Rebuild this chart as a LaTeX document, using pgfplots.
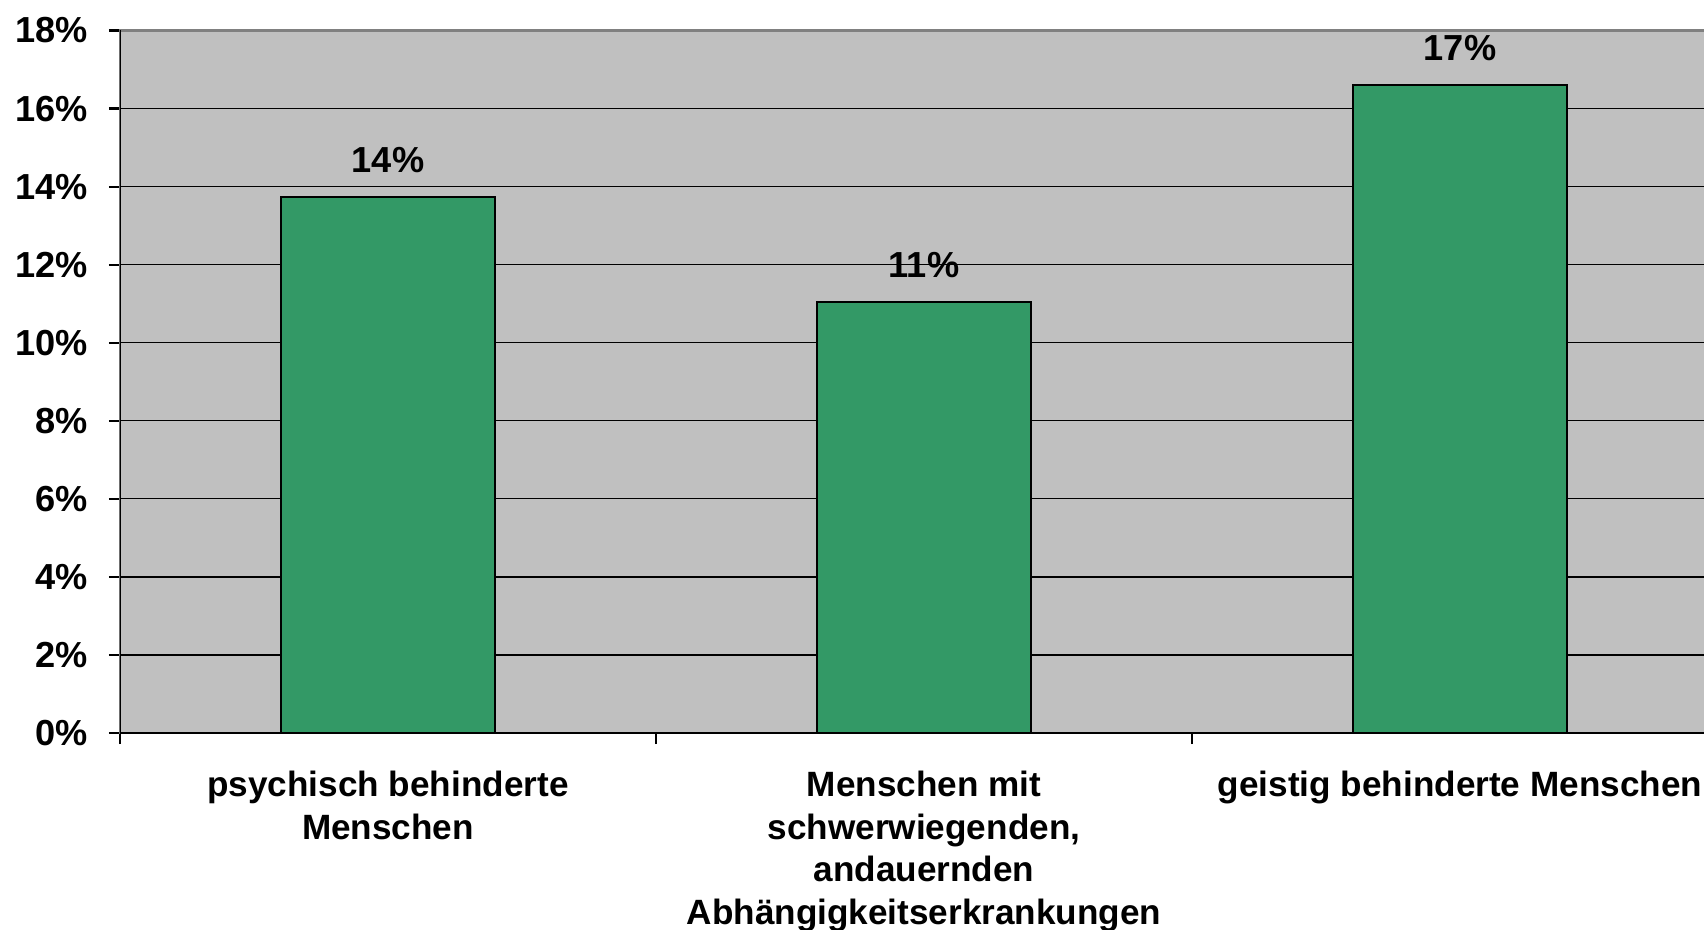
\documentclass[border=0pt]{standalone}
\usepackage{pgfplots}
\pgfplotsset{compat=1.18}
\usepackage{fontspec}
\setmainfont{Liberation Sans}
\definecolor{plotbg}{RGB}{192,192,192}
\definecolor{barfill}{RGB}{51,153,102}
\definecolor{framegray}{RGB}{128,128,128}
\newcommand{\lbl}{\fontsize{10}{12.07}\selectfont\bfseries}
\newcommand{\tlbl}{\fontsize{10.3}{12.07}\selectfont\bfseries}
\begin{document}
\begin{tikzpicture}
\useasboundingbox (-12mm,-19.7mm) rectangle (158.4mm,73.3mm);
\clip (-12mm,-19.7mm) rectangle (158.4mm,73.3mm);
\begin{axis}[
  at={(0mm,0mm)}, anchor=south west,
  scale only axis, width=160.8mm, height=70.25mm,
  xmin=0.5, xmax=3.5, ymin=0, ymax=18,
  ybar, bar width=0.4, bar shift=0pt,
  ytick={0,2,...,18},
  yticklabel={\pgfmathprintnumber{\tick}\%},
  xtick={0.5,1.5,2.5,3.5},
  x tick label as interval,
  xtick pos=bottom, ytick pos=left,
  xticklabels={{psychisch behinderte\\Menschen},{Menschen mit\\schwerwiegenden,\\andauernden\\Abhängigkeitserkrankungen},{geistig behinderte Menschen}},
  xticklabel style={align=center, font=\lbl, anchor=north, yshift=-1.5mm},
  yticklabel style={font=\tlbl, xshift=-0.9mm},
  /pgf/number format/assume math mode=true,
  tick align=outside, major tick length=1.1mm,
  tick style={black, line width=0.6pt},
  ymajorgrids, grid style={black, line width=0.35pt},
  axis background/.style={fill=plotbg},
  axis line style={framegray, line width=0.8pt},
  nodes near coords={\pgfmathprintnumber[fixed,precision=0]{\pgfplotspointmeta}\%},
  nodes near coords style={font=\tlbl, anchor=south, inner sep=0pt, yshift=2.3mm, black},
]
\addplot[fill=barfill, draw=black, line width=0.6pt] coordinates {(1,13.74) (2,11.04) (3,16.61)};
\draw[black, line width=0.7pt] (rel axis cs:0,1) -- (rel axis cs:0,0) -- (rel axis cs:1,0);
\end{axis}
\end{tikzpicture}
\end{document}
